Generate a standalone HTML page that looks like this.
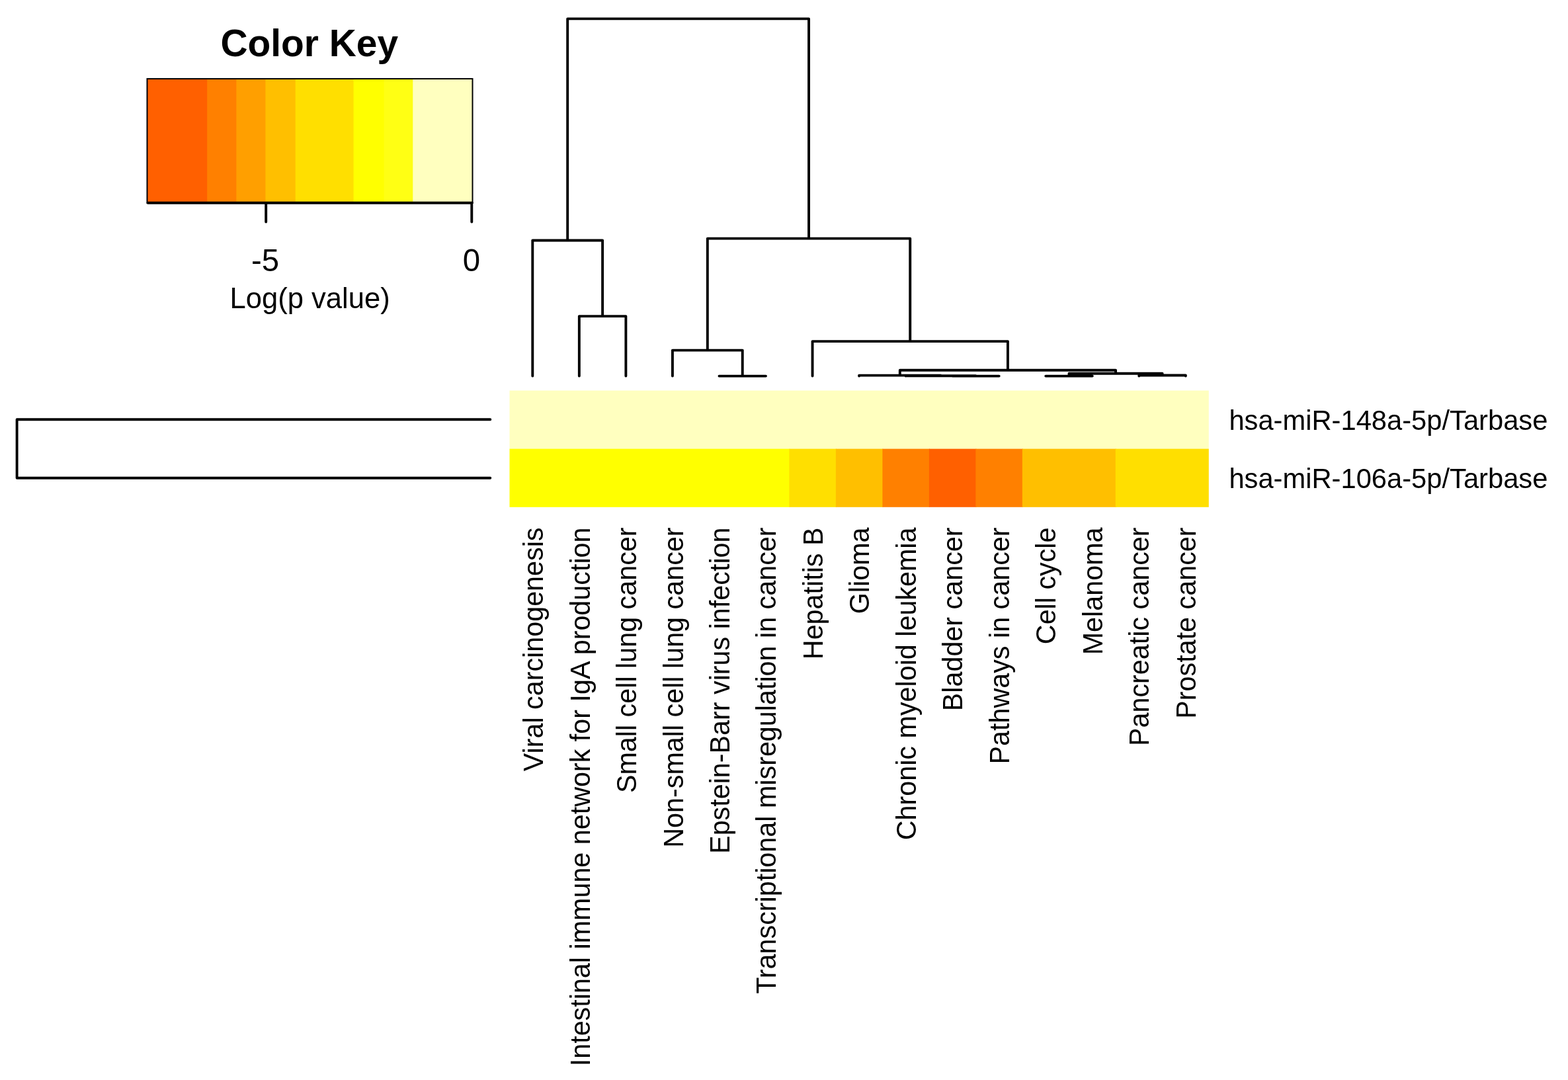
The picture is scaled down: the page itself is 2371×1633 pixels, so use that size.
<!DOCTYPE html>
<html lang="en">
<head>
<meta charset="utf-8">
<title>Heatmap</title>
<style>
html,body{margin:0;padding:0;background:#fff;}
body{width:2371px;height:1633px;overflow:hidden;}
svg{display:block;}
text{font-family:"Liberation Sans",sans-serif;fill:#000;}
.d{fill:none;stroke:#000;stroke-width:3.90;stroke-linecap:round;stroke-linejoin:round;}
.row{font-size:41.70px;}
.col{font-size:41.30px;}
.tick{font-size:47.40px;}
.xlab{font-size:44.50px;}
.ttl{font-size:56.90px;font-weight:bold;}
</style>
</head>
<body>
<svg width="2371" height="1633" viewBox="0 0 2371 1633">
<rect x="0" y="0" width="2371" height="1633" fill="#ffffff"/>
<g>
<rect x="222.50" y="119.10" width="91.70" height="187.70" fill="#ff6000"/>
<rect x="313.20" y="119.10" width="45.20" height="187.70" fill="#ff8000"/>
<rect x="357.40" y="119.10" width="45.00" height="187.70" fill="#ff9f00"/>
<rect x="401.40" y="119.10" width="46.30" height="187.70" fill="#ffbf00"/>
<rect x="446.70" y="119.10" width="88.90" height="187.70" fill="#ffdf00"/>
<rect x="534.60" y="119.10" width="47.00" height="187.70" fill="#ffff00"/>
<rect x="580.60" y="119.10" width="44.70" height="187.70" fill="#ffff14"/>
<rect x="624.30" y="119.10" width="90.20" height="187.70" fill="#ffffbf"/>
</g>
<rect x="222.50" y="119.10" width="492.00" height="187.70" fill="none" stroke="#000" stroke-width="2.00"/>
<path class="d" d="M223.50 306.80H713.90 M402.20 306.80V335.60 M713.30 306.80V335.60"/>
<text class="ttl" x="467.80" y="85.00" text-anchor="middle">Color Key</text>
<text class="tick" x="401.00" y="410.20" text-anchor="middle">-5</text>
<text class="tick" x="713.00" y="410.20" text-anchor="middle">0</text>
<text class="xlab" text-anchor="middle" transform="translate(468.60 466.40) scale(0.9790 1)">Log(p value)</text>
<g>
<rect x="770.50" y="590.50" width="1057.30" height="89.15" fill="#ffffbf"/>
<rect x="770.50" y="678.65" width="423.92" height="88.15" fill="#ffff00"/>
<rect x="1193.42" y="678.65" width="71.49" height="88.15" fill="#ffdf00"/>
<rect x="1263.91" y="678.65" width="71.49" height="88.15" fill="#ffbf00"/>
<rect x="1334.39" y="678.65" width="71.49" height="88.15" fill="#ff8000"/>
<rect x="1404.88" y="678.65" width="71.49" height="88.15" fill="#ff6000"/>
<rect x="1475.37" y="678.65" width="71.49" height="88.15" fill="#ff8000"/>
<rect x="1545.85" y="678.65" width="141.97" height="88.15" fill="#ffbf00"/>
<rect x="1686.83" y="678.65" width="140.97" height="88.15" fill="#ffdf00"/>
</g>
<path class="d" d="M741.30 634.30H25.60V722.80H741.30"/>
<path class="d" d="M875.84 568.60V478.10H946.38V568.60 M805.30 568.60V363.50H911.11V478.10 M1087.46 568.60V568.60H1158.00V568.60 M1016.92 568.60V529.60H1122.73V568.60 M1440.16 568.60V568.60H1510.70V568.60 M1369.62 568.60V568.20H1475.43V568.60 M1299.08 568.60V567.60H1422.52V568.20 M1581.24 568.60V568.60H1651.78V568.60 M1722.32 568.60V567.50H1792.86V568.60 M1616.51 568.60V564.70H1757.59V567.50 M1360.80 567.60V559.70H1687.05V564.70 M1228.54 568.60V516.10H1523.93V559.70 M1069.83 529.60V360.60H1376.23V516.10 M858.20 363.50V28.40H1223.03V360.60"/>
<text class="row" transform="translate(1858.40 649.88) scale(1 1.040)">hsa-miR-148a-5p/Tarbase</text>
<text class="row" transform="translate(1858.40 738.02) scale(1 1.040)">hsa-miR-106a-5p/Tarbase</text>
<text class="col" text-anchor="end" transform="translate(821.04 797.50) rotate(-90) scale(1 1.040)">Viral carcinogenesis</text>
<text class="col" text-anchor="end" transform="translate(891.53 797.50) rotate(-90) scale(1 1.040)">Intestinal immune network for IgA production</text>
<text class="col" text-anchor="end" transform="translate(962.02 797.50) rotate(-90) scale(1 1.040)">Small cell lung cancer</text>
<text class="col" text-anchor="end" transform="translate(1032.50 797.50) rotate(-90) scale(1 1.040)">Non-small cell lung cancer</text>
<text class="col" text-anchor="end" transform="translate(1102.99 797.50) rotate(-90) scale(1 1.040)">Epstein-Barr virus infection</text>
<text class="col" text-anchor="end" transform="translate(1173.48 797.50) rotate(-90) scale(1 1.040)">Transcriptional misregulation in cancer</text>
<text class="col" text-anchor="end" transform="translate(1243.96 797.50) rotate(-90) scale(1 1.040)">Hepatitis B</text>
<text class="col" text-anchor="end" transform="translate(1314.45 797.50) rotate(-90) scale(1 1.040)">Glioma</text>
<text class="col" text-anchor="end" transform="translate(1384.94 797.50) rotate(-90) scale(1 1.040)">Chronic myeloid leukemia</text>
<text class="col" text-anchor="end" transform="translate(1455.42 797.50) rotate(-90) scale(1 1.040)">Bladder cancer</text>
<text class="col" text-anchor="end" transform="translate(1525.91 797.50) rotate(-90) scale(1 1.040)">Pathways in cancer</text>
<text class="col" text-anchor="end" transform="translate(1596.40 797.50) rotate(-90) scale(1 1.040)">Cell cycle</text>
<text class="col" text-anchor="end" transform="translate(1666.88 797.50) rotate(-90) scale(1 1.040)">Melanoma</text>
<text class="col" text-anchor="end" transform="translate(1737.37 797.50) rotate(-90) scale(1 1.040)">Pancreatic cancer</text>
<text class="col" text-anchor="end" transform="translate(1807.86 797.50) rotate(-90) scale(1 1.040)">Prostate cancer</text>
</svg>
</body>
</html>
